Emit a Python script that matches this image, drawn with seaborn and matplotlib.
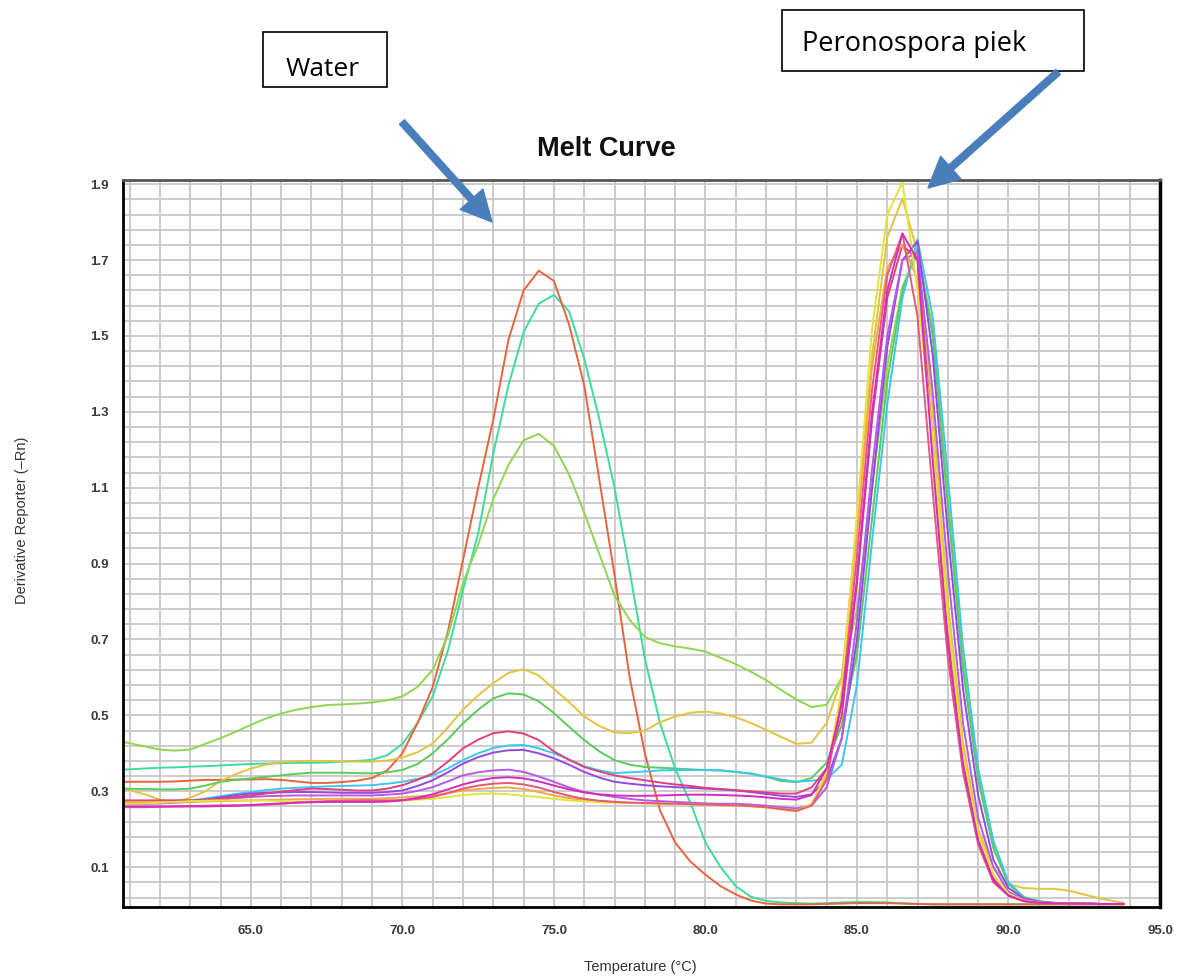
import numpy as np
import pandas as pd
import matplotlib
matplotlib.use("Agg")
import matplotlib.pyplot as plt
import seaborn as sns
from matplotlib.patches import Rectangle, FancyArrowPatch
from matplotlib.ticker import FixedLocator, FormatStrFormatter

# ---------------- data ----------------
temps = [60.8, 61.5, 62.0, 62.5, 63.0, 63.5, 64.0, 64.5, 65.0, 65.5,
         66.0, 66.5, 67.0, 67.5, 68.0, 68.5, 69.0, 69.5, 70.0, 70.5,
         71.0, 71.5, 72.0, 72.5, 73.0, 73.5, 74.0, 74.5, 75.0, 75.5,
         76.0, 76.5, 77.0, 77.5, 78.0, 78.5, 79.0, 79.5, 80.0, 80.5,
         81.0, 81.5, 82.0, 82.5, 83.0, 83.5, 84.0, 84.5, 85.0, 85.5,
         86.0, 86.5, 87.0, 87.5, 88.0, 88.5, 89.0, 89.5, 90.0, 90.5,
         91.0, 91.5, 92.0, 92.5, 93.0, 93.5, 93.8]

water_orange = [0.325, 0.325, 0.325, 0.326, 0.328, 0.330, 0.330, 0.331, 0.331, 0.332,
                0.330, 0.326, 0.322, 0.322, 0.324, 0.328, 0.335, 0.355, 0.400, 0.480,
                0.575, 0.720, 0.910, 1.100, 1.280, 1.490, 1.620, 1.672, 1.645, 1.530,
                1.370, 1.120, 0.870, 0.600, 0.400, 0.250, 0.165, 0.115, 0.080, 0.050,
                0.028, 0.012, 0.004, 0.002, 0.002, 0.002, 0.003, 0.004, 0.005, 0.005,
                0.005, 0.004, 0.003, 0.002, 0.002, 0.002, 0.002, 0.002, 0.002, 0.002,
                0.002, 0.002, 0.002, 0.002, 0.002, 0.002, 0.002]

water_teal = [0.357, 0.360, 0.362, 0.363, 0.365, 0.366, 0.368, 0.370, 0.372, 0.373,
              0.374, 0.375, 0.375, 0.376, 0.378, 0.380, 0.383, 0.395, 0.425, 0.480,
              0.550, 0.670, 0.830, 0.980, 1.190, 1.370, 1.510, 1.585, 1.608, 1.565,
              1.440, 1.280, 1.100, 0.880, 0.650, 0.480, 0.360, 0.270, 0.165, 0.100,
              0.050, 0.022, 0.011, 0.007, 0.005, 0.004, 0.005, 0.007, 0.008, 0.008,
              0.007, 0.005, 0.003, 0.002, 0.002, 0.002, 0.002, 0.002, 0.002, 0.002,
              0.002, 0.002, 0.002, 0.002, 0.002, 0.002, 0.002]

s_chartreuse = [0.430, 0.418, 0.410, 0.407, 0.410, 0.425, 0.440, 0.457, 0.475, 0.492,
                0.505, 0.515, 0.522, 0.527, 0.529, 0.531, 0.534, 0.540, 0.550, 0.575,
                0.620, 0.710, 0.850, 0.950, 1.070, 1.160, 1.225, 1.242, 1.210, 1.135,
                1.035, 0.925, 0.815, 0.752, 0.707, 0.690, 0.682, 0.676, 0.668, 0.652,
                0.635, 0.615, 0.593, 0.567, 0.542, 0.522, 0.528, 0.600, 0.780, 1.100,
                1.420, 1.630, 1.720, 1.520, 1.080, 0.650, 0.350, 0.160, 0.060, 0.022,
                0.010, 0.006, 0.004, 0.004, 0.003, 0.003, 0.003]

s_gold = [0.307, 0.292, 0.278, 0.273, 0.283, 0.300, 0.327, 0.345, 0.360, 0.370,
          0.377, 0.379, 0.380, 0.380, 0.379, 0.378, 0.378, 0.381, 0.389, 0.403,
          0.426, 0.468, 0.515, 0.553, 0.585, 0.612, 0.622, 0.605, 0.570, 0.535,
          0.497, 0.472, 0.455, 0.453, 0.460, 0.482, 0.497, 0.507, 0.510, 0.505,
          0.495, 0.480, 0.462, 0.443, 0.425, 0.428, 0.480, 0.600, 1.000, 1.450,
          1.760, 1.862, 1.720, 1.300, 0.800, 0.430, 0.200, 0.100, 0.055, 0.045,
          0.043, 0.043, 0.038, 0.028, 0.018, 0.010, 0.006]

s_green = [0.307, 0.306, 0.305, 0.305, 0.307, 0.315, 0.325, 0.330, 0.334, 0.338,
           0.342, 0.346, 0.349, 0.349, 0.349, 0.348, 0.347, 0.350, 0.356, 0.372,
           0.400, 0.437, 0.479, 0.515, 0.545, 0.558, 0.555, 0.537, 0.506, 0.470,
           0.435, 0.405, 0.382, 0.370, 0.364, 0.362, 0.360, 0.358, 0.356, 0.355,
           0.351, 0.347, 0.338, 0.327, 0.324, 0.335, 0.375, 0.475, 0.660, 1.020,
           1.380, 1.620, 1.730, 1.500, 1.050, 0.620, 0.330, 0.150, 0.055, 0.020,
           0.010, 0.006, 0.004, 0.004, 0.003, 0.003, 0.003]

s_crimson = [0.276, 0.276, 0.276, 0.276, 0.276, 0.278, 0.281, 0.285, 0.289, 0.294,
             0.299, 0.303, 0.307, 0.306, 0.304, 0.302, 0.302, 0.307, 0.316, 0.330,
             0.347, 0.378, 0.413, 0.436, 0.453, 0.458, 0.452, 0.435, 0.405, 0.383,
             0.364, 0.352, 0.342, 0.335, 0.329, 0.323, 0.318, 0.314, 0.309, 0.306,
             0.303, 0.300, 0.297, 0.294, 0.294, 0.310, 0.360, 0.500, 0.850, 1.280,
             1.600, 1.740, 1.700, 1.220, 0.720, 0.380, 0.170, 0.070, 0.025, 0.012,
             0.007, 0.005, 0.004, 0.004, 0.003, 0.003, 0.003]

s_cyan = [0.272, 0.273, 0.274, 0.275, 0.276, 0.281, 0.287, 0.293, 0.298, 0.303,
          0.307, 0.309, 0.311, 0.313, 0.314, 0.315, 0.316, 0.320, 0.325, 0.333,
          0.342, 0.360, 0.382, 0.400, 0.414, 0.421, 0.422, 0.413, 0.400, 0.384,
          0.366, 0.355, 0.348, 0.350, 0.352, 0.355, 0.356, 0.356, 0.356, 0.355,
          0.351, 0.346, 0.339, 0.331, 0.325, 0.328, 0.332, 0.370, 0.580, 0.960,
          1.320, 1.600, 1.755, 1.550, 1.130, 0.680, 0.360, 0.170, 0.060, 0.020,
          0.010, 0.006, 0.004, 0.004, 0.003, 0.003, 0.003]

s_purple = [0.272, 0.272, 0.272, 0.272, 0.272, 0.278, 0.284, 0.290, 0.294, 0.296,
            0.297, 0.298, 0.298, 0.297, 0.296, 0.296, 0.296, 0.298, 0.302, 0.314,
            0.329, 0.350, 0.373, 0.390, 0.402, 0.408, 0.409, 0.400, 0.387, 0.370,
            0.351, 0.336, 0.325, 0.320, 0.316, 0.313, 0.311, 0.309, 0.307, 0.305,
            0.302, 0.298, 0.293, 0.288, 0.285, 0.292, 0.330, 0.440, 0.700, 1.100,
            1.470, 1.700, 1.750, 1.450, 0.980, 0.570, 0.290, 0.120, 0.045, 0.018,
            0.009, 0.005, 0.004, 0.004, 0.003, 0.003, 0.003]

s_violet = [0.267, 0.267, 0.268, 0.270, 0.272, 0.275, 0.278, 0.282, 0.285, 0.287,
            0.288, 0.289, 0.289, 0.289, 0.289, 0.289, 0.289, 0.291, 0.294, 0.301,
            0.311, 0.326, 0.342, 0.350, 0.355, 0.357, 0.351, 0.339, 0.325, 0.310,
            0.298, 0.291, 0.285, 0.280, 0.276, 0.274, 0.272, 0.270, 0.268, 0.267,
            0.267, 0.265, 0.262, 0.258, 0.255, 0.262, 0.310, 0.440, 0.750, 1.150,
            1.500, 1.700, 1.720, 1.350, 0.880, 0.480, 0.230, 0.100, 0.035, 0.015,
            0.008, 0.005, 0.004, 0.004, 0.003, 0.003, 0.003]

s_pink = [0.258, 0.258, 0.259, 0.260, 0.261, 0.262, 0.263, 0.263, 0.263, 0.265,
          0.267, 0.270, 0.272, 0.274, 0.275, 0.276, 0.276, 0.276, 0.277, 0.280,
          0.285, 0.295, 0.307, 0.315, 0.320, 0.322, 0.318, 0.310, 0.298, 0.288,
          0.280, 0.275, 0.272, 0.270, 0.269, 0.268, 0.267, 0.266, 0.265, 0.264,
          0.263, 0.261, 0.258, 0.253, 0.248, 0.262, 0.330, 0.540, 0.920, 1.360,
          1.660, 1.770, 1.550, 1.090, 0.650, 0.350, 0.160, 0.060, 0.025, 0.010,
          0.006, 0.005, 0.004, 0.004, 0.003, 0.003, 0.003]

s_orange = [0.272, 0.272, 0.272, 0.272, 0.272, 0.273, 0.274, 0.275, 0.276, 0.277,
            0.278, 0.279, 0.279, 0.280, 0.280, 0.280, 0.280, 0.282, 0.284, 0.287,
            0.289, 0.295, 0.302, 0.306, 0.309, 0.310, 0.306, 0.298, 0.289, 0.282,
            0.277, 0.274, 0.272, 0.270, 0.269, 0.268, 0.267, 0.266, 0.265, 0.264,
            0.263, 0.261, 0.258, 0.254, 0.250, 0.266, 0.340, 0.560, 0.980, 1.420,
            1.680, 1.740, 1.650, 1.220, 0.750, 0.400, 0.190, 0.080, 0.030, 0.013,
            0.007, 0.005, 0.004, 0.004, 0.003, 0.003, 0.003]

s_yellow = [0.267, 0.268, 0.270, 0.272, 0.274, 0.275, 0.276, 0.276, 0.276, 0.275,
            0.274, 0.273, 0.272, 0.272, 0.272, 0.272, 0.272, 0.273, 0.275, 0.278,
            0.280, 0.285, 0.290, 0.293, 0.294, 0.292, 0.288, 0.285, 0.280, 0.276,
            0.273, 0.271, 0.270, 0.269, 0.268, 0.267, 0.266, 0.265, 0.264, 0.263,
            0.262, 0.260, 0.257, 0.252, 0.247, 0.265, 0.350, 0.570, 1.030, 1.520,
            1.820, 1.905, 1.620, 1.220, 0.760, 0.400, 0.190, 0.080, 0.030, 0.012,
            0.006, 0.005, 0.004, 0.004, 0.003, 0.003, 0.003]

s_magenta = [0.260, 0.260, 0.260, 0.260, 0.260, 0.260, 0.261, 0.262, 0.264, 0.266,
             0.268, 0.270, 0.271, 0.272, 0.272, 0.272, 0.272, 0.273, 0.276, 0.283,
             0.292, 0.305, 0.318, 0.328, 0.335, 0.337, 0.334, 0.326, 0.315, 0.305,
             0.297, 0.292, 0.289, 0.288, 0.288, 0.289, 0.290, 0.291, 0.291, 0.290,
             0.289, 0.287, 0.284, 0.280, 0.278, 0.290, 0.360, 0.530, 0.860, 1.300,
             1.620, 1.770, 1.700, 1.170, 0.690, 0.370, 0.170, 0.065, 0.025, 0.011,
             0.006, 0.005, 0.004, 0.004, 0.003, 0.003, 0.003]

series = {
    "water_teal": water_teal,
    "water_orange": water_orange,
    "chartreuse": s_chartreuse,
    "gold": s_gold,
    "green": s_green,
    "cyan": s_cyan,
    "purple": s_purple,
    "violet": s_violet,
    "crimson": s_crimson,
    "orange": s_orange,
    "yellow": s_yellow,
    "pink": s_pink,
    "magenta": s_magenta,
}
palette = {
    "water_teal": "#3ddc9e",
    "water_orange": "#e8643c",
    "chartreuse": "#8fd650",
    "gold": "#e2c440",
    "green": "#5acc5a",
    "cyan": "#3cc8ec",
    "purple": "#9448e4",
    "violet": "#b45ae6",
    "crimson": "#e0407c",
    "orange": "#f0a848",
    "yellow": "#e6e23c",
    "pink": "#e8587a",
    "magenta": "#d42cc0",
}

x_major = [65.0, 70.0, 75.0, 80.0, 85.0, 90.0, 95.0]
y_major = [0.1, 0.3, 0.5, 0.7, 0.9, 1.1, 1.3, 1.5, 1.7, 1.9]

for k, v in series.items():
    assert len(v) == len(temps), k

df = pd.concat([pd.DataFrame({"T": temps, "v": v, "sample": k}) for k, v in series.items()],
               ignore_index=True)

# ---------------- figure ----------------
sns.set_theme(style="white")
plt.rcParams["font.family"] = ["Liberation Sans", "DejaVu Sans"]

W, H = 1178, 977
fig = plt.figure(figsize=(W / 100, H / 100), dpi=100)
fig.patch.set_facecolor("white")

L, R, T, B = 123, 1160, 180, 907
ax = fig.add_axes([L / W, 1 - B / H, (R - L) / W, (B - T) / H])

sns.lineplot(data=df, x="T", y="v", hue="sample", hue_order=list(series.keys()),
             palette=palette, linewidth=1.4, estimator=None, legend=False, ax=ax)

ax.set_xlim(60.78, 95.0)
ax.set_ylim(-0.005, 1.911)

ax.xaxis.set_major_locator(FixedLocator(x_major))
ax.xaxis.set_minor_locator(FixedLocator([61 + i for i in range(34)]))
ax.yaxis.set_major_locator(FixedLocator(y_major))
ax.yaxis.set_minor_locator(FixedLocator([0.02 + 0.04 * i for i in range(48)]))
ax.xaxis.set_major_formatter(FormatStrFormatter("%.1f"))
ax.yaxis.set_major_formatter(FormatStrFormatter("%.1f"))

ax.set_axisbelow(True)
ax.grid(True, which="both", color="#c6c6c6", linewidth=1.25)

ax.tick_params(axis="both", which="both", direction="out", color="#9a9a9a",
               labelsize=9.5, labelcolor="#3a3a3a", width=1.0)
ax.tick_params(axis="y", which="major", length=8, pad=2)
ax.tick_params(axis="y", which="minor", length=4.5)
ax.tick_params(axis="x", which="both", length=4, pad=9)
for lab in ax.get_xticklabels() + ax.get_yticklabels():
    lab.set_fontweight("bold")

for side, col, lw in [("left", "black", 2.0), ("bottom", "black", 2.0),
                      ("top", "#555555", 2.0), ("right", "black", 2.5)]:
    ax.spines[side].set_visible(True)
    ax.spines[side].set_color(col)
    ax.spines[side].set_linewidth(lw)

ax.set_xlabel("")
ax.set_ylabel("")

# titles / labels
def fx(px):
    return px / W

def fy(py):
    return 1 - py / H

fig.text(fx(606), fy(149), "Melt Curve", ha="center", va="center",
         fontsize=19.5, fontweight="bold", color="#111111")
fig.text(fx(640), fy(967), "Temperature (°C)", ha="center", va="center",
         fontsize=10.5, color="#333333")
fig.text(fx(22), fy(520), "Derivative Reporter (\u2013Rn)", ha="center", va="center",
         rotation=90, fontsize=10.5, color="#333333")

# annotation boxes
for (x0, y0, x1, y1) in [(263, 32, 387, 87), (782, 10, 1084, 71)]:
    fig.add_artist(Rectangle((fx(x0), fy(y1)), (x1 - x0) / W, (y1 - y0) / H,
                             transform=fig.transFigure, facecolor="white",
                             edgecolor="black", linewidth=1.2))
fig.text(fx(286), fy(69), "Water", ha="left", va="center",
         fontsize=19, family=["Open Sans", "DejaVu Sans"], color="black")
fig.text(fx(802), fy(44), "Peronospora piek", ha="left", va="center",
         fontsize=19.5, family=["Open Sans", "DejaVu Sans"], color="black")

# arrows
for (xa, ya, xb, yb) in [(402, 122, 492, 222), (1058, 72, 928, 188)]:
    fig.add_artist(FancyArrowPatch((fx(xa), fy(ya)), (fx(xb), fy(yb)),
                                   transform=fig.transFigure,
                                   arrowstyle="simple,head_length=1.0,head_width=1.0,tail_width=0.22",
                                   mutation_scale=22, color="#4a7ebb",
                                   shrinkA=0, shrinkB=0))

fig.savefig("out.png", dpi=100, facecolor="white")
